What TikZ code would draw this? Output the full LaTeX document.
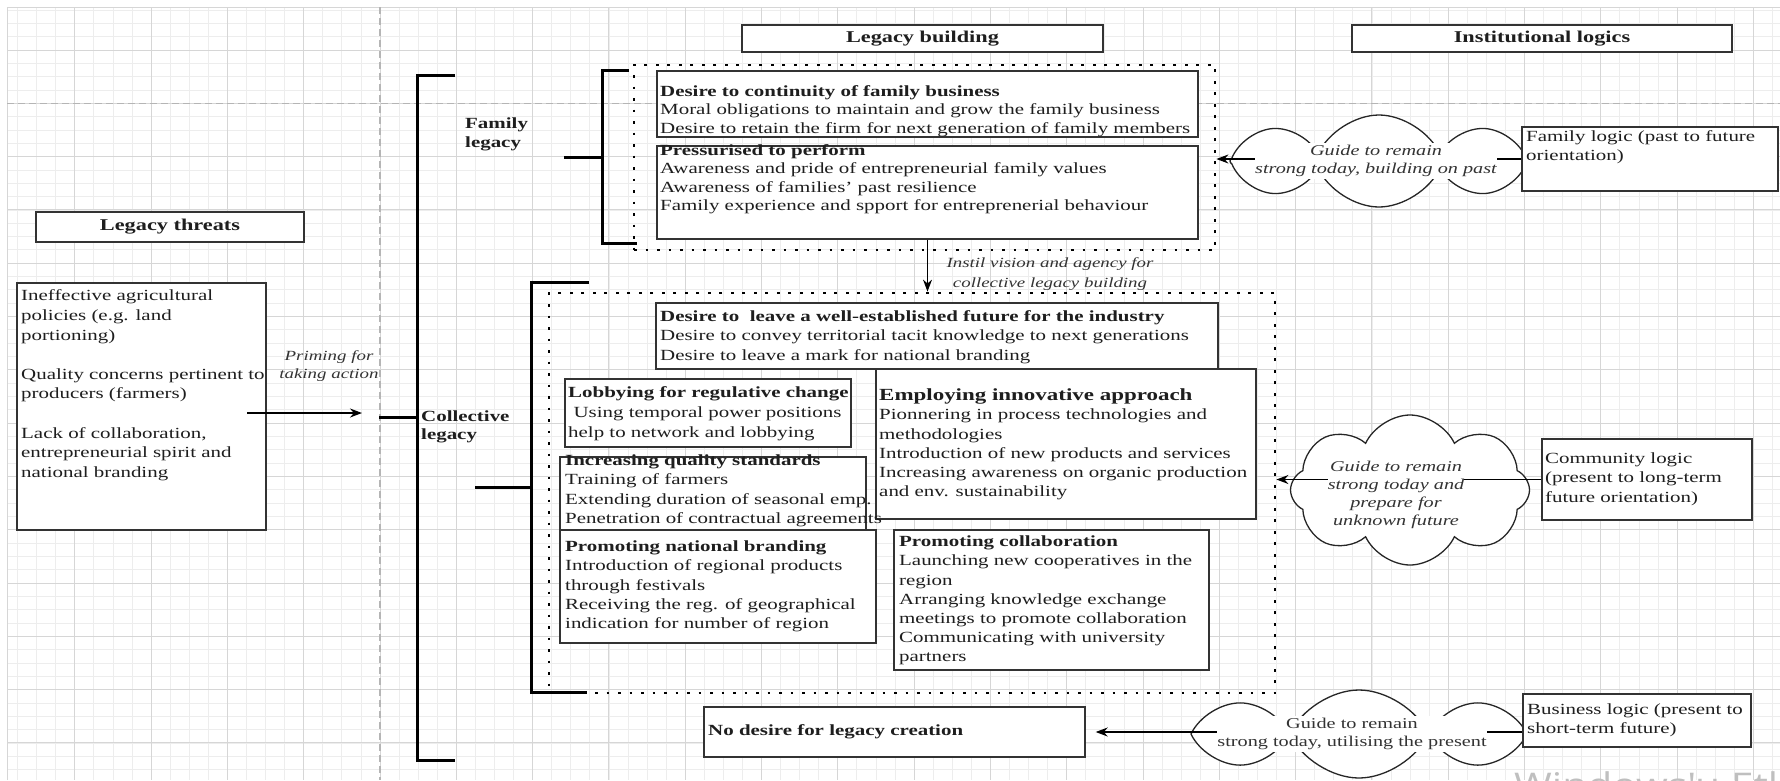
\documentclass[tikz,border=0pt]{standalone}
\usepackage{fontspec}
\usepackage{graphicx}
\setmainfont{Liberation Serif}
\newfontfamily\wmfont{Open Sans}
\usetikzlibrary{shapes.symbols,arrows.meta}

% left-aligned and centred text blocks, set slightly wide
\newcommand{\tb}[1]{\scalebox{1.35}[1]{\begin{tabular}[t]{@{}l@{}}#1\end{tabular}}}
\newcommand{\tc}[1]{\scalebox{1.35}[1]{\begin{tabular}{@{}c@{}}#1\end{tabular}}}

\definecolor{boxc}{HTML}{333333}
\definecolor{gminorc}{HTML}{EDEDED}
\definecolor{gmajorc}{HTML}{D6D6D6}
\definecolor{gdashc}{HTML}{B5B5B5}
\definecolor{inkc}{HTML}{1E1E1E}

\tikzset{
  gminor/.style={draw=gminorc, line width=0.8pt},
  gmajor/.style={draw=gmajorc, line width=1pt},
  gdash/.style={draw=gdashc, line width=1.1pt, dash pattern=on 7pt off 4pt},
  bx/.style={draw=boxc, line width=1.4pt, fill=white, inner sep=0pt},
  hd/.style={draw=boxc, line width=1.9pt, fill=white, inner sep=0pt,
    font=\fontsize{16.5}{19}\selectfont\bfseries, text=inkc},
  txt/.style={anchor=north west, inner sep=0pt, text=inkc,
    font=\fontsize{15.5}{19.2}\selectfont},
  lbl/.style={inner sep=0pt, text=black!80, font=\fontsize{14}{18}\selectfont\itshape},
  ctxt/.style={fill=white, inner sep=0pt, text=black!80,
    font=\fontsize{15}{18}\selectfont\itshape},
  dotbox/.style={draw=black, line width=2.8pt, dash pattern=on 2.8pt off 8.7pt,
    inner sep=0pt},
  brk/.style={draw=black, line width=3pt},
  arr/.style={draw=black, line width=1.3pt, -{Stealth[length=12pt,width=9pt]}},
  cloudy/.style={cloud, cloud puffs=8, cloud puff arc=130, cloud ignores aspect,
    draw=black!85, line width=1.3pt, fill=white, inner sep=0pt},
}

\begin{document}
\begin{tikzpicture}[x=1pt,y=-1pt]
\clip (0,0) rectangle (1780,780);
\fill[white] (0,0) rectangle (1780,780);

% background grid
\foreach \i in {1,...,93}{\pgfmathsetmacro\gx{-1.5+19.075*\i}
  \draw[gminor] (\gx,7) -- (\gx,780);}
\foreach \j in {1,...,58}{\pgfmathsetmacro\gy{-3.3+13.325*\j}
  \draw[gminor] (7,\gy) -- (1780,\gy);}
\foreach \k in {1,...,23}{\pgfmathsetmacro\gx{-1.5+76.3*\k}
  \draw[gmajor] (\gx,7) -- (\gx,780);}
\foreach \k in {1,...,14}{\pgfmathsetmacro\gy{-3.3+53.3*\k}
  \draw[gmajor] (7,\gy) -- (1780,\gy);}
\draw[gmajor] (7,780) -- (7,7) -- (1780,7);
\draw[gdash] (380,7) -- (380,780);
\draw[gdash] (7,103.3) -- (1780,103.3);

% column headings
\node[hd, minimum width=268pt, minimum height=30pt] (threats) at (170,227) {\tc{Legacy threats}};
\node[hd, minimum width=361pt, minimum height=27pt] (building) at (922.5,38.5) {\tc{Legacy building}};
\node[hd, minimum width=380pt, minimum height=27pt] (logics) at (1542,38.5) {\tc{Institutional logics}};

% brackets
\draw[brk] (455,75) -- (417,75) -- (417,760) -- (455,760);
\draw[brk] (379,417) -- (417,417);
\draw[brk] (629,70) -- (602,70) -- (602,243) -- (637,243);
\draw[brk] (564,157) -- (602,157);
\draw[brk] (589,282) -- (531,282) -- (531,692) -- (587,692);
\draw[brk] (475,487) -- (531,487);

% dotted groups
\node[dotbox, minimum width=581pt, minimum height=185pt] (fam) at (924.5,157.5) {};
\node[dotbox, minimum width=726pt, minimum height=400pt] (col) at (912,493) {};

% clouds
\node[cloudy, minimum width=298pt, minimum height=92pt] (cloud1) at (1379,161) {};
\node[cloudy, minimum width=239pt, minimum height=150pt] (cloud2) at (1410,490) {};
\node[cloudy, minimum width=336pt, minimum height=88pt] (cloud3) at (1359,734) {};

% boxes
\node[bx, minimum width=249pt, minimum height=247pt] (ineff) at (141.5,406.5) {};
\node[bx, minimum width=541pt, minimum height=66pt] (cont) at (927.5,104) {};
\node[bx, minimum width=541pt, minimum height=93pt] (press) at (927.5,192.5) {};
\node[bx, minimum width=562pt, minimum height=66pt] (desire) at (937,336) {};
\node[bx, minimum width=286pt, minimum height=68pt] (lobby) at (708,413) {};
\node[bx, minimum width=380pt, minimum height=150pt] (employ) at (1066,444) {};
\node[bx, minimum width=306pt, minimum height=73pt] (quality) at (713,493.5) {};
\node[bx, minimum width=316pt, minimum height=113pt] (national) at (718,586.5) {};
\node[bx, minimum width=315pt, minimum height=140pt] (collab) at (1051.5,600) {};
\node[bx, minimum width=381pt, minimum height=50pt] (nodesire) at (894.5,732) {};
\node[bx, minimum width=256pt, minimum height=64pt] (famlogic) at (1650,159) {};
\node[bx, minimum width=210pt, minimum height=81pt] (community) at (1647,479.5) {};
\node[bx, minimum width=228pt, minimum height=53pt] (business) at (1637,720.5) {};

% connectors
\coordinate (pr-a) at (247,413);
\coordinate (pr-b) at (362,413);
\draw[arr] (pr-a) -- (pr-b);
\draw[arr] (press.south) -- (press.south |- col.north);
\draw[arr] (famlogic.west) -- (famlogic.west -| fam.east);
\draw[arr] (community.west) -- (community.west -| col.east);
\draw[arr, shorten >=10pt] (business.west |- nodesire.east) -- (nodesire.east);

% box texts
\node[txt, font=\fontsize{15.5}{19.6}\selectfont] (ineff-t) at (21,287) {\tb{Ineffective agricultural\\policies (e.g. land\\portioning)\\ \\Quality concerns pertinent to\\producers (farmers)\\ \\Lack of collaboration,\\entrepreneurial spirit and\\national branding}};
\node[txt, font=\fontsize{15.5}{19.2}\selectfont\bfseries] (famleg) at (465,115) {\tb{Family\\legacy}};
\node[txt, font=\fontsize{15.5}{18}\selectfont\bfseries] (colleg) at (421,409) {\tb{Collective\\legacy}};
\node[txt, font=\fontsize{15.5}{18.5}\selectfont] (cont-t) at (660,83) {\tb{\textbf{Desire to continuity of family business}\\Moral obligations to maintain and grow the family business\\Desire to retain the firm for next generation of family members}};
\node[txt, font=\fontsize{15.5}{18.5}\selectfont] (press-t) at (660,142) {\tb{\textbf{Pressurised to perform}\\Awareness and pride of entrepreneurial family values\\Awareness of families' past resilience\\Family experience and spport for entreprenerial behaviour}};
\node[txt] (desire-t) at (660,308) {\tb{\textbf{Desire to\ \ leave a well-established future for the industry}\\Desire to convey territorial tacit knowledge to next generations\\Desire to leave a mark for national branding}};
\node[txt, font=\fontsize{15.5}{20}\selectfont] (lobby-t) at (568,383) {\tb{\textbf{Lobbying for regulative change}\\\hspace{4pt}Using temporal power positions\\help to network and lobbying}};
\node[txt] (employ-t) at (879,387) {\tb{{\fontsize{17}{19.2}\selectfont\bfseries Employing innovative approach}\\Pionnering in process technologies and\\methodologies\\Introduction of new products and services\\Increasing awareness on organic production\\and env. sustainability}};
\node[txt] (quality-t) at (565,452) {\tb{\textbf{Increasing quality standards}\\Training of farmers\\Extending duration of seasonal emp.\\Penetration of contractual agreements}};
\node[txt] (national-t) at (565,538) {\tb{\textbf{Promoting national branding}\\Introduction of regional products\\through festivals\\Receiving the reg. of geographical\\indication for number of region}};
\node[txt] (collab-t) at (899,533) {\tb{\textbf{Promoting collaboration}\\Launching new cooperatives in the\\region\\Arranging knowledge exchange\\meetings to promote collaboration\\Communicating with university\\partners}};
\node[txt, font=\fontsize{15.5}{19.2}\selectfont\bfseries] (nodesire-t) at (708,722) {\tb{No desire for legacy creation}};
\node[txt] (famlogic-t) at (1526,128) {\tb{Family logic (past to future\\orientation)}};
\node[txt] (community-t) at (1545,450) {\tb{Community logic\\(present to long-term\\future orientation)}};
\node[txt] (business-t) at (1527,701) {\tb{Business logic (present to\\short-term future)}};

% connector labels
\node[lbl] (prime) at (329,366) {\tc{Priming for\\taking action}};
\node[lbl, font=\fontsize{14}{20}\selectfont\itshape] (instil) at (1050,273) {\tc{Instil vision and agency for\\collective legacy building}};
\node[ctxt] (cloud1-t) at (1376,161) {\tc{Guide to remain\\strong today, building on past}};
\node[ctxt] (cloud2-t) at (1396,495) {\tc{Guide to remain\\strong today and\\prepare for\\unknown future}};
\node[ctxt, font=\fontsize{15}{18}\selectfont] (cloud3-t) at (1352,734) {\tc{Guide to remain\\strong today, utilising the present}};

% screen watermark along the lower edge
\node[anchor=base west, inner sep=0pt, text=black!25, font=\wmfont\fontsize{34}{34}\selectfont] (wm) at (1514,797) {\scalebox{1.2}[1]{Windows'u Etkinleştir}};
\end{tikzpicture}
\end{document}
